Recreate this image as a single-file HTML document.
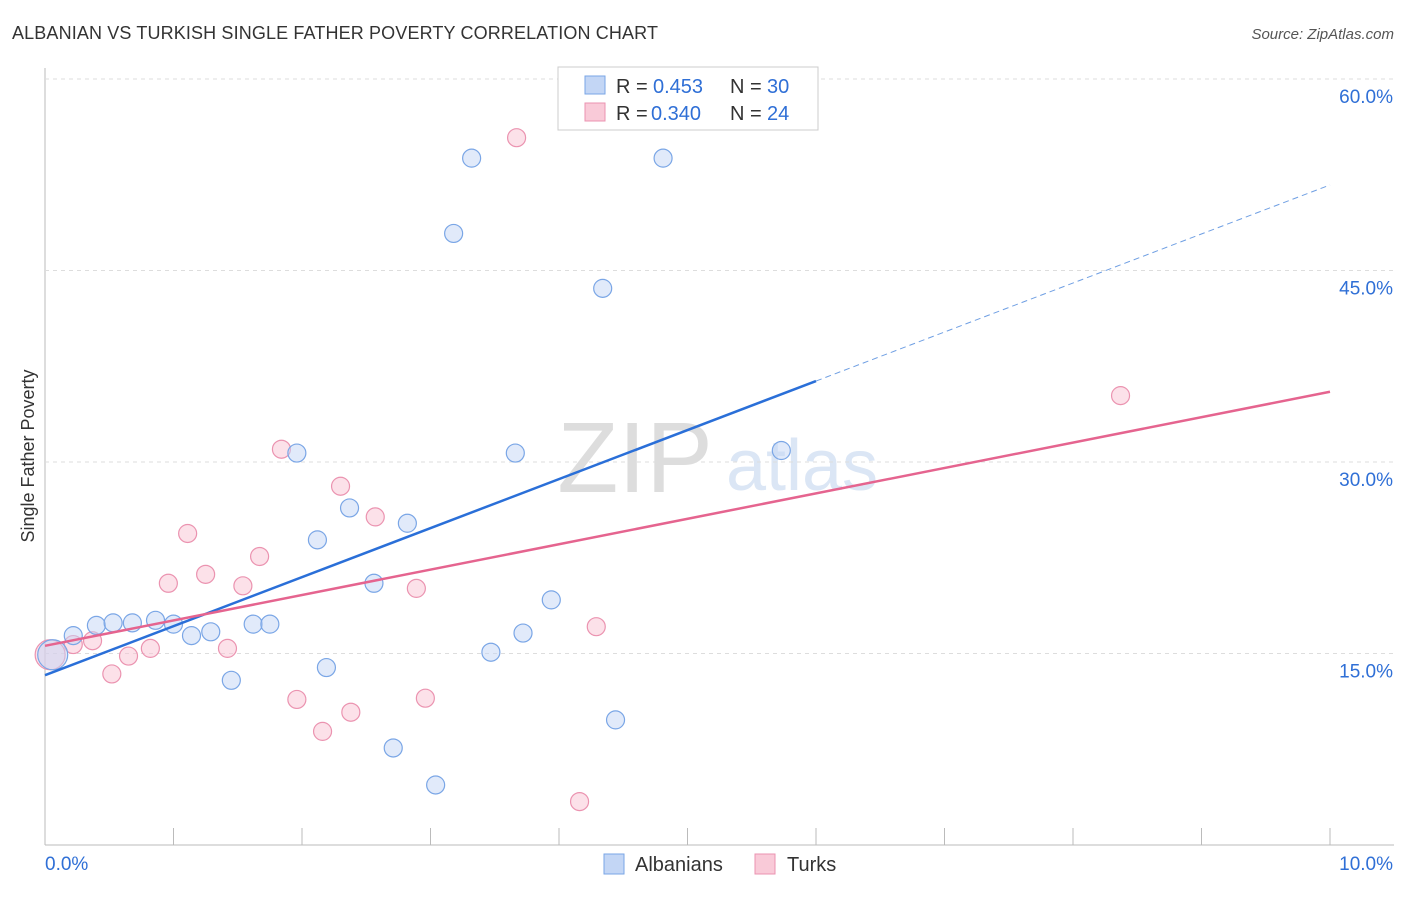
<!DOCTYPE html>
<html><head><meta charset="utf-8"><style>
body{margin:0;background:#fff;font-family:"Liberation Sans",sans-serif;}
svg text{font-family:"Liberation Sans",sans-serif;}
</style></head><body>
<svg id="chart" width="1406" height="892">
<text x="12" y="39" font-size="18" fill="#333" textLength="646">ALBANIAN VS TURKISH SINGLE FATHER POVERTY CORRELATION CHART</text>
<text x="1394" y="39" font-size="15" fill="#555" font-style="italic" text-anchor="end">Source: ZipAtlas.com</text>
<text x="34" y="456" font-size="18" fill="#333" transform="rotate(-90 34 456)" text-anchor="middle">Single Father Poverty</text>
<text x="635" y="492" font-size="100" fill="#ddd" font-family="Liberation Serif" text-anchor="middle">ZIP</text>
<text x="802" y="490" font-size="72" fill="#dbe6f5" text-anchor="middle">atlas</text>
<g id="grid"></g><g id="marks"></g>
<g>
<rect x="558" y="67" width="260" height="63" fill="#fff" stroke="#ccc"/>
<rect x="585" y="76" width="20" height="18" fill="#c3d6f5" stroke="#7aa6e6"/>
<text x="616" y="93" font-size="20" fill="#333">R =</text><text x="653" y="93" font-size="20" fill="#2f6fd6">0.453</text>
<text x="730" y="93" font-size="20" fill="#333">N =</text><text x="767" y="93" font-size="20" fill="#2f6fd6">30</text>
<rect x="585" y="103" width="20" height="18" fill="#f9cad8" stroke="#eb93b0"/>
<text x="616" y="120" font-size="20" fill="#333">R =</text><text x="651" y="120" font-size="20" fill="#2f6fd6">0.340</text>
<text x="730" y="120" font-size="20" fill="#333">N =</text><text x="767" y="120" font-size="20" fill="#2f6fd6">24</text>
</g>
<g>
<rect x="604" y="854" width="20" height="20" fill="#c3d6f5" stroke="#7aa6e6"/>
<text x="635" y="871" font-size="20" fill="#333">Albanians</text>
<rect x="755" y="854" width="20" height="20" fill="#f9cad8" stroke="#eb93b0"/>
<text x="787" y="871" font-size="20" fill="#333">Turks</text>
</g>
</svg>
<script>
const yTicks=[15,30,45,60];
const xTickLabels=["0.0%","10.0%"];
const blueX=[0.06,0.22,0.40,0.53,0.68,0.86,1.00,1.14,1.29,1.45,1.62,1.75,1.96,2.12,2.19,2.37,2.56,2.71,2.82,3.04,3.18,3.32,3.47,3.66,3.72,3.94,4.34,4.44,4.81,5.73];
const blueY=[14.9,16.4,17.2,17.4,17.4,17.6,17.3,16.4,16.7,12.9,17.3,17.3,30.7,23.9,13.9,26.4,20.5,7.6,25.2,4.7,47.9,53.8,15.1,30.7,16.6,19.2,43.6,9.8,53.8,30.9];
const pinkX=[0.04,0.22,0.37,0.52,0.65,0.82,0.96,1.11,1.25,1.42,1.54,1.67,1.84,1.96,2.16,2.30,2.38,2.57,2.89,2.96,3.67,4.16,4.29,8.37];
const pinkY=[14.9,15.7,16.0,13.4,14.8,15.4,20.5,24.4,21.2,15.4,20.3,22.6,31.0,11.4,8.9,28.1,10.4,25.7,20.1,11.5,55.4,3.4,17.1,35.2];
const blueTrend=[13.3,51.7];
const pinkTrend=[15.6,35.5];
const NS="http://www.w3.org/2000/svg";
const X=v=>45+v*128.5, Y=v=>845-v*12.767;
function mk(t,a,p){const e=document.createElementNS(NS,t);for(const k in a)e.setAttribute(k,a[k]);p.appendChild(e);return e;}
const grid=document.getElementById('grid'),marks=document.getElementById('marks');
let ax=mk('line',{x1:45,y1:68,x2:45,y2:845,stroke:'#bbb'},grid);


let bx=mk('line',{x1:45,y1:845,x2:1394,y2:845,stroke:'#bbb'},grid);


mk('line',{x1:45,y1:79,x2:1394,y2:79,stroke:'#ddd','stroke-dasharray':'4 4'},grid);
yTicks.forEach(t=>{
 const l=mk('line',{x1:45,y1:Y(t),x2:1394,y2:Y(t),stroke:'#ddd','stroke-dasharray':'4 4'},grid);
 
 
 const tx=mk('text',{x:1393,y:Y(t)+24,'font-size':19,fill:'#2f6fd6','text-anchor':'end'},grid);
 tx.textContent=t.toFixed(1)+'%';
 
 
});
for(let i=0;i<=10;i++){const l=mk('line',{x1:X(i),y1:828,x2:X(i),y2:845,stroke:'#bbb'},grid);
 
 }
const xl0=mk('text',{x:45,y:870,'font-size':19,fill:'#2f6fd6'},grid);xl0.textContent=xTickLabels[0];


const xl1=mk('text',{x:1393,y:870,'font-size':19,fill:'#2f6fd6','text-anchor':'end'},grid);xl1.textContent=xTickLabels[1];


function dots(xs,ys,fill,stroke,name){xs.forEach((x,i)=>{const r=i===0?15:9;
 const c=mk('circle',{cx:X(x),cy:Y(ys[i]),r:r,fill:fill,stroke:stroke,'stroke-width':1.2,'fill-opacity':0.5},marks);
 
 });}
dots(pinkX,pinkY,'#f9c3d3','#eb93b0','turks-point');
dots(blueX,blueY,'#c3d6f5','#7aa6e6','albanians-point');
const bAt=v=>blueTrend[0]+(blueTrend[1]-blueTrend[0])*v/10;
const pAt=v=>pinkTrend[0]+(pinkTrend[1]-pinkTrend[0])*v/10;
const bl=mk('line',{x1:X(0),y1:Y(bAt(0)),x2:X(6),y2:Y(bAt(6)),stroke:'#2a6fd8','stroke-width':2.5},marks);


const bd=mk('line',{x1:X(6),y1:Y(bAt(6)),x2:X(10),y2:Y(bAt(10)),stroke:'#6f9fe3','stroke-width':1,'stroke-dasharray':'6 4'},marks);


const pl=mk('line',{x1:X(0),y1:Y(pAt(0)),x2:X(10),y2:Y(pAt(10)),stroke:'#e5648f','stroke-width':2.5},marks);


</script>
</body></html>
